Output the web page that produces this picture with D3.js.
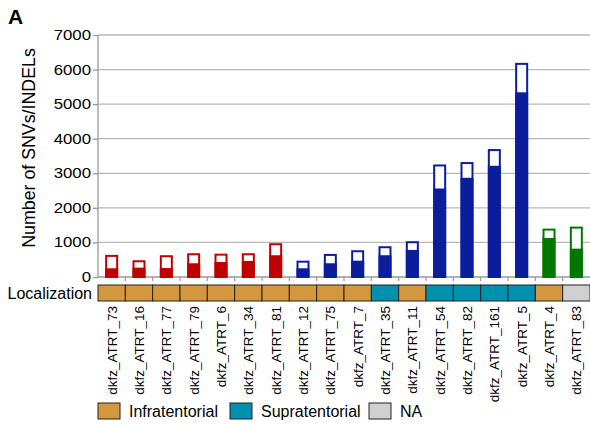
<!DOCTYPE html>
<html><head><meta charset="utf-8">
<script src="https://cdn.jsdelivr.net/npm/d3@7"></script>
<style>body{margin:0;background:#fff;} text{font-family:"Liberation Sans",Arial,sans-serif;}</style>
</head><body>
<svg id="c" width="590" height="426"></svg>
<script>
const samples = ["dkfz_ATRT_73","dkfz_ATRT_16","dkfz_ATRT_77","dkfz_ATRT_79","dkfz_ATRT_6","dkfz_ATRT_34","dkfz_ATRT_81","dkfz_ATRT_12","dkfz_ATRT_75","dkfz_ATRT_7","dkfz_ATRT_35","dkfz_ATRT_11","dkfz_ATRT_54","dkfz_ATRT_82","dkfz_ATRT_161","dkfz_ATRT_5","dkfz_ATRT_4","dkfz_ATRT_83"];
const totalCounts = [640,484,630,687,675,687,977,472,667,774,890,1035,3255,3325,3700,6194,1400,1458];
const filledCounts = [252,270,260,397,435,464,629,252,397,472,629,783,2560,2870,3217,5342,1130,820];
const groups = ["red","red","red","red","red","red","red","blue","blue","blue","blue","blue","blue","blue","blue","blue","green","green"];
const localization = ["Infratentorial","Infratentorial","Infratentorial","Infratentorial","Infratentorial","Infratentorial","Infratentorial","Infratentorial","Infratentorial","Infratentorial","Supratentorial","Infratentorial","Supratentorial","Supratentorial","Supratentorial","Supratentorial","Infratentorial","NA"];
const yTicks = [0,1000,2000,3000,4000,5000,6000,7000];
const locCategories = ["Infratentorial","Supratentorial","NA"];

const groupColor = {red:"#c00000", blue:"#0a1e9c", green:"#007800"};
const locColor = {Infratentorial:"#d4973f", Supratentorial:"#0090b0", NA:"#d0d0d0"};

const svg = d3.select("#c");
const x = d3.scaleBand().domain(samples).range([98, 590]).paddingInner(0).paddingOuter(0);
const y = d3.scaleLinear().domain([0,7000]).range([277, 35]);
const barW = 13;

// gridlines
svg.append("g").selectAll("line").data(yTicks.slice(1)).join("line")
  .attr("x1", 98).attr("x2", 590).attr("y1", d=>y(d)).attr("y2", d=>y(d))
  .attr("stroke", "#b8b8b8").attr("stroke-width", 1.3);

// y axis
const yAxis = d3.axisLeft(y).tickValues(yTicks).tickSize(5).tickPadding(3).tickFormat(d3.format("d"));
const gy = svg.append("g").attr("transform","translate(98,0)").call(yAxis);
gy.selectAll("path,line").attr("stroke","#999").attr("stroke-width",1.3);
gy.select(".domain").attr("d", `M0,${y(7000)}V${y(0)}`);
gy.selectAll("text").attr("font-size",14).attr("fill","#000")
  .style("font-family","Liberation Sans, Arial, sans-serif")
  .attr("transform","scale(1.2,1)").attr("x", -7/1.2);

// x axis baseline with ticks between categories
svg.append("line").attr("x1",98).attr("x2",590).attr("y1",277).attr("y2",277).attr("stroke","#999").attr("stroke-width",1.3);
svg.append("g").selectAll("line").data(samples.slice(1)).join("line")
  .attr("x1", d=>x(d)).attr("x2", d=>x(d)).attr("y1",277).attr("y2",281)
  .attr("stroke","#999").attr("stroke-width",1.2);

// bars
const bars = svg.append("g").selectAll("g").data(samples).join("g");
bars.append("rect")
  .attr("x", d=>x(d)+x.bandwidth()/2-barW/2+1)
  .attr("y", (d,i)=>y(totalCounts[i])+1)
  .attr("width", barW-2)
  .attr("height", (d,i)=>y(0)-y(totalCounts[i])-1)
  .attr("fill","#fff").attr("stroke",(d,i)=>groupColor[groups[i]]).attr("stroke-width",2);
bars.append("rect")
  .attr("x", d=>x(d)+x.bandwidth()/2-barW/2)
  .attr("y", (d,i)=>y(filledCounts[i]))
  .attr("width", barW)
  .attr("height", (d,i)=>y(0)-y(filledCounts[i]))
  .attr("fill",(d,i)=>groupColor[groups[i]]);

// localization strip
svg.append("g").selectAll("rect").data(samples).join("rect")
  .attr("x", d=>x(d)).attr("y",285).attr("width",x.bandwidth()).attr("height",16)
  .attr("fill",(d,i)=>locColor[localization[i]]).attr("stroke","#222").attr("stroke-width",1);
svg.append("text").attr("x",92).attr("y",299).attr("text-anchor","end").attr("font-size",16).text("Localization");

// sample labels
svg.append("g").selectAll("text").data(samples).join("text")
  .attr("transform", d=>`translate(${x(d)+x.bandwidth()/2+5},306) rotate(-90)`)
  .attr("text-anchor","end").attr("font-size",13.5).text(d=>d);

// y label
svg.append("text").attr("transform","translate(35,148) rotate(-90)").attr("text-anchor","middle")
  .attr("font-size",17.8).text("Number of SNVs/INDELs");

// panel letter
svg.append("text").attr("x",8).attr("y",24).attr("font-size",21).attr("font-weight","bold").text("A");

// legend
const legX = [98, 230, 369];
const lg = svg.append("g").selectAll("g").data(locCategories).join("g")
  .attr("transform",(d,i)=>`translate(${legX[i]},403)`);
lg.append("rect").attr("width",22).attr("height",16).attr("fill",d=>locColor[d]).attr("stroke","#222").attr("stroke-width",1);
lg.append("text").attr("x",31).attr("y",14).attr("font-size",16).text(d=>d);
</script>
</body></html>
